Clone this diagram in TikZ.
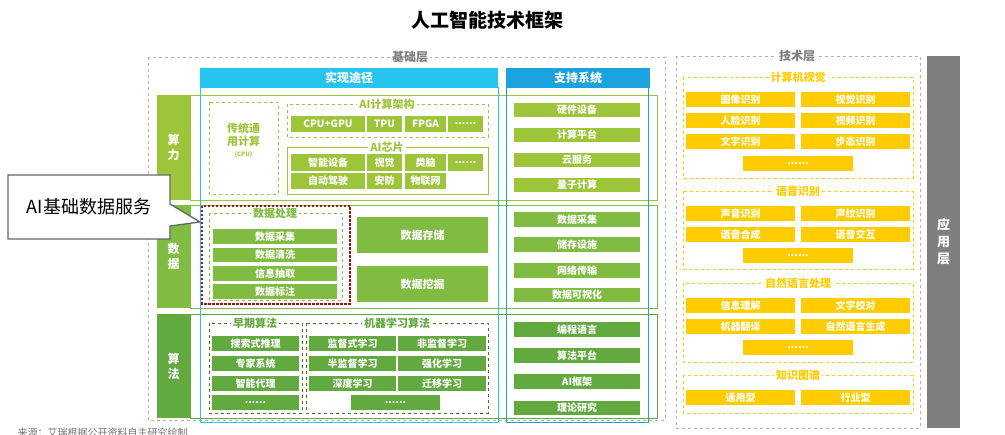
\documentclass[tikz,border=0pt]{standalone}
\usepackage{fontspec}
\setmainfont{Noto Sans CJK SC}
\usetikzlibrary{calc}
\definecolor{gA}{HTML}{9DC53A}
\definecolor{gB}{HTML}{80BB42}
\definecolor{gC}{HTML}{62A940}
\definecolor{cyA}{HTML}{25C5F0}
\definecolor{cyB}{HTML}{1AA3DC}
\definecolor{yl}{HTML}{FFCC00}
\definecolor{dred}{HTML}{A50F15}
\definecolor{appg}{HTML}{7F7F7F}
\tikzset{
 itm/.style={inner sep=0pt,text=white,font=\fontsize{10}{11}\selectfont\bfseries},
 ttl/.style={fill=white,inner sep=2pt,font=\fontsize{11}{12}\selectfont\bfseries},
 lay/.style={fill=white,inner sep=2pt,text=appg,font=\fontsize{12}{14}\selectfont\bfseries},
 dbox/.style={draw,dashed,line width=0.6pt},
}
\newcommand\ib[7][]{\node[itm,#1,minimum width={(#5-#3)*1pt},minimum height={(#6-#4)*1pt}] (#2) at ({(#3+#5)/2},{(#4+#6)/2}) {#7};}
\begin{document}
\begin{tikzpicture}[x=1pt,y=-1pt]
\useasboundingbox (0,0) rectangle (1005,435);
\node[font=\fontsize{19}{22}\selectfont\bfseries] (title) at (487,20) {人工智能技术框架};
% layers
\draw[dbox,gray!60,line width=0.8pt] (148,57) rectangle (665,420);
\node[lay] (jc) at (410,57) {基础层};
\draw[dbox,gray!60,line width=0.8pt] (676,56) rectangle (920,428);
\node[lay] (js) at (797,56) {技术层};
\node[fill=appg,minimum width=33pt,minimum height=372pt,inner sep=0pt] (app) at (943.5,242) {};
\node[text=white,align=center,font=\fontsize{13}{17}\selectfont\bfseries] (appt) at (app) {应\\用\\层};
% headers
\node[fill=cyA,minimum width=298pt,minimum height=20pt,inner sep=0pt,text=white,font=\fontsize{12}{13}\selectfont\bfseries] (h1) at (349,78) {实现途径};
\node[fill=cyB,minimum width=144pt,minimum height=20pt,inner sep=0pt,text=white,font=\fontsize{12}{13}\selectfont\bfseries] (h2) at (578,78) {支持系统};
% rows
\draw[gA,line width=0.8pt] (190,95) rectangle (657,200);
\draw[gB,line width=0.8pt] (190,205) rectangle (657,308);
\draw[gC,line width=0.8pt] (190,314) rectangle (657,418);
\ib[fill=gA,font=\fontsize{12}{15}\selectfont\bfseries,align=center]{r1}{157}{95}{190}{200}{算\\力}
\ib[fill=gB,font=\fontsize{12}{15}\selectfont\bfseries,align=center]{r2}{157}{205}{190}{308}{数\\据}
\ib[fill=gC,font=\fontsize{12}{15}\selectfont\bfseries,align=center]{r3}{157}{314}{190}{418}{算\\法}
% suanli
\draw[dbox,gA,line width=0.5pt] (209,102) rectangle (278,194);
\node[text=gA,align=center,font=\fontsize{11}{13}\selectfont\bfseries] (cpu) at (243.5,140) {传统通\\用计算\\[-2pt]{\fontsize{6}{7}\selectfont (CPU)}};
\draw[dbox,gA,line width=0.5pt] (287,104) rectangle (488,137);
\node[ttl,text=gA] (t1) at (387,104) {AI计算架构};
\ib[fill=gA]{a1}{291}{116}{365}{132}{CPU+GPU}
\ib[fill=gA]{a2}{367}{116}{402}{132}{TPU}
\ib[fill=gA]{a3}{405}{116}{446}{132}{FPGA}
\ib[fill=gA]{a4}{448}{116}{483}{132}{......}
\draw[gA,line width=0.5pt] (287,147) rectangle (488,194);
\node[ttl,text=gA] (t2) at (387,147) {AI芯片};
\ib[fill=gA]{b1}{291}{154}{365}{171}{智能设备}
\ib[fill=gA]{b2}{367}{154}{402}{171}{视觉}
\ib[fill=gA]{b3}{405}{154}{446}{171}{类脑}
\ib[fill=gA]{b4}{448}{154}{483}{171}{......}
\ib[fill=gA]{b5}{291}{173}{365}{189}{自动驾驶}
\ib[fill=gA]{b6}{367}{173}{402}{189}{安防}
\ib[fill=gA]{b7}{405}{173}{446}{189}{物联网}
\ib[fill=gA]{s1}{514}{103}{640}{117}{硬件设备}
\ib[fill=gA]{s2}{514}{128}{640}{142}{计算平台}
\ib[fill=gA]{s3}{514}{153}{640}{167}{云服务}
\ib[fill=gA]{s4}{514}{178}{640}{192}{量子计算}
% data
\draw[dbox,gB,line width=0.5pt] (209,213) rectangle (342,300);
\node[ttl,text=gB] (t3) at (275,213) {数据处理};
\ib[fill=gB]{d1}{213}{229}{337}{244}{数据采集}
\ib[fill=gB]{d2}{213}{248}{337}{262}{数据清洗}
\ib[fill=gB]{d3}{213}{266}{337}{281}{信息抽取}
\ib[fill=gB]{d4}{213}{284}{337}{299}{数据标注}
\draw[dred,line width=2.6pt,dash pattern=on 2.5pt off 1.5pt] (202,206) rectangle (350,304);
\ib[fill=gB,font=\fontsize{11}{12}\selectfont\bfseries]{d5}{357}{217}{488}{253}{数据存储}
\ib[fill=gB,font=\fontsize{11}{12}\selectfont\bfseries]{d6}{357}{266}{488}{302}{数据挖掘}
\ib[fill=gB]{s5}{514}{212}{640}{227}{数据采集}
\ib[fill=gB]{s6}{514}{237}{640}{252}{储存设施}
\ib[fill=gB]{s7}{514}{263}{640}{278}{网络传输}
\ib[fill=gB]{s8}{514}{288}{640}{302}{数据可视化}
% algorithms
\draw[dbox,gC!70!black,line width=0.5pt] (209,323) rectangle (302,413);
\node[ttl,text=gC] (t4) at (255,323) {早期算法};
\ib[fill=gC]{e1}{212}{336}{299}{351}{搜索式推理}
\ib[fill=gC]{e2}{212}{356}{299}{371}{专家系统}
\ib[fill=gC]{e3}{212}{376}{299}{391}{智能代理}
\ib[fill=gC]{e4}{212}{395}{299}{410}{......}
\draw[dbox,gC!70!black,line width=0.5pt] (306,323) rectangle (488,413);
\node[ttl,text=gC] (t5) at (397,323) {机器学习算法};
\ib[fill=gC]{m1}{309}{336}{396}{351}{监督式学习}
\ib[fill=gC]{m2}{398}{336}{486}{351}{非监督学习}
\ib[fill=gC]{m3}{309}{356}{396}{371}{半监督学习}
\ib[fill=gC]{m4}{398}{356}{486}{371}{强化学习}
\ib[fill=gC]{m5}{309}{376}{396}{391}{深度学习}
\ib[fill=gC]{m6}{398}{376}{486}{391}{迁移学习}
\ib[fill=gC]{m7}{351}{395}{440}{410}{......}
\ib[fill=gC]{s9}{514}{322}{640}{337}{编程语言}
\ib[fill=gC]{s10}{514}{348}{640}{363}{算法平台}
\ib[fill=gC]{s11}{514}{374}{640}{389}{AI框架}
\ib[fill=gC]{s12}{514}{401}{640}{415}{理论研究}
% cyan outlines
\draw[cyA,line width=1pt] (200,88) rectangle (498,423);
\draw[cyB,line width=1pt] (506,88) rectangle (648,423);
% tech layer
\draw[dbox,yl,line width=0.5pt] (683,77) rectangle (913,178);
\node[ttl,text=yl] (t6) at (798,77) {计算机视觉};
\ib[fill=yl]{v1}{686}{92}{795}{107}{图像识别}
\ib[fill=yl]{v2}{801}{92}{910}{107}{视觉识别}
\ib[fill=yl]{v3}{686}{113}{795}{128}{人脸识别}
\ib[fill=yl]{v4}{801}{113}{910}{128}{视频识别}
\ib[fill=yl]{v5}{686}{134}{795}{149}{文字识别}
\ib[fill=yl]{v6}{801}{134}{910}{149}{步态识别}
\ib[fill=yl]{v7}{743}{156}{853}{171}{......}
\draw[dbox,yl,line width=0.5pt] (683,191) rectangle (913,269);
\node[ttl,text=yl] (t7) at (798,191) {语音识别};
\ib[fill=yl]{y1}{686}{206}{795}{221}{声音识别}
\ib[fill=yl]{y2}{801}{206}{910}{221}{声纹识别}
\ib[fill=yl]{y3}{686}{227}{795}{242}{语音合成}
\ib[fill=yl]{y4}{801}{227}{910}{242}{语音交互}
\ib[fill=yl]{y5}{743}{248}{853}{263}{......}
\draw[dbox,yl,line width=0.5pt] (683,283) rectangle (913,362);
\node[ttl,text=yl] (t8) at (798,283) {自然语言处理};
\ib[fill=yl]{n1}{686}{298}{795}{313}{信息理解}
\ib[fill=yl]{n2}{801}{298}{910}{313}{文字校对}
\ib[fill=yl]{n3}{686}{319}{795}{334}{机器翻译}
\ib[fill=yl]{n4}{801}{319}{910}{334}{自然语言生成}
\ib[fill=yl]{n5}{743}{340}{853}{355}{......}
\draw[dbox,yl,line width=0.5pt] (683,375) rectangle (913,413);
\node[ttl,text=yl] (t9) at (798,375) {知识图谱};
\ib[fill=yl]{k1}{686}{390}{795}{405}{通用型}
\ib[fill=yl]{k2}{801}{390}{910}{405}{行业型}
% callout
\coordinate (tip) at (200,222);
\draw[gray!80!black,line width=1.3pt,fill=white] (8,175) -- (170,175) -- (170,204) -- (tip) -- (170,226) -- (170,239) -- (8,239) -- cycle;
\node[font=\fontsize{18}{20}\selectfont] (co) at (89,207) {AI基础数据服务};
\node[anchor=west,text=gray!90!black,font=\fontsize{10}{12}\selectfont] (src) at (14,433) {来源：艾瑞根据公开资料自主研究绘制};
\end{tikzpicture}
\end{document}
